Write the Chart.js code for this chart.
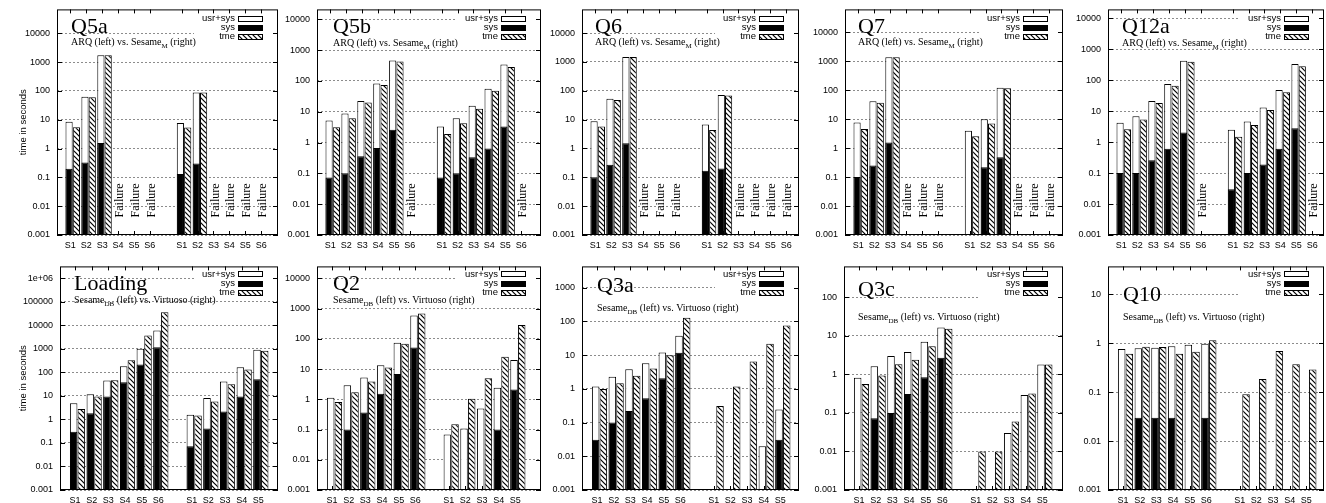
<!DOCTYPE html>
<html>
<head>
<meta charset="utf-8">
<title>Query times</title>
<script src="https://cdn.jsdelivr.net/npm/chart.js@4/dist/chart.umd.min.js"></script>
<style>
  html, body { margin: 0; padding: 0; background: #fff; overflow: hidden; }
  #page { position: relative; width: 1326px; height: 503px; overflow: hidden; }
  #page canvas { position: absolute; }
</style>
</head>
<body>
<div id="page"></div>
<script>
var SERVERS = ["S1", "S2", "S3", "S4", "S5", "S6"];
var TICK_VALUES = [0.001, 0.01, 0.1, 1, 10, 100, 1000, 10000, 100000, 1000000];
var TICK_LABELS = ["0.001", "0.01", "0.1", "1", "10", "100", "1000", "10000", "100000", "1e+06"];
var Y_TITLE = "time in seconds";
var LEGEND_LABELS = ["usr+sys", "sys", "tme"];
var FAILURE_TEXT = "Failure";
var SUBTITLE_ARQ = ["ARQ (left) vs. Sesame", "M", " (right)"];
var SUBTITLE_VIRTUOSO = ["Sesame", "DB", " (left) vs. Virtuoso (right)"];

// left system S1..S6, then right system S1..S6 (seconds)
var Q5A_USRSYS = [8.5, 62, 1730, null, null, null, 7.7, 88, null, null, null, null];
var Q5A_SYS = [0.2, 0.33, 1.56, null, null, null, 0.13, 0.3, null, null, null, null];
var Q5A_TME = [5.5, 60, 1730, null, null, null, 5.4, 88, null, null, null, null];
var Q5A_FAILED = [3, 4, 5, 8, 9, 10, 11];

var Q5B_USRSYS = [5.2, 8.8, 22.4, 82, 457, null, 3.3, 6.1, 15.5, 55, 340, null];
var Q5B_SYS = [0.073, 0.1, 0.36, 0.66, 2.6, null, 0.073, 0.1, 0.33, 0.64, 3.3, null];
var Q5B_TME = [3.1, 6.1, 19.8, 73, 424, null, 1.9, 4.2, 12.5, 48, 280, null];
var Q5B_FAILED = [5, 11];

var Q6_USRSYS = [8.8, 53, 1480, null, null, null, 6.8, 71, null, null, null, null];
var Q6_SYS = [0.1, 0.27, 1.5, null, null, null, 0.17, 0.2, null, null, null, null];
var Q6_TME = [5.8, 48, 1480, null, null, null, 4.4, 68, null, null, null, null];
var Q6_FAILED = [3, 4, 5, 8, 9, 10, 11];

var Q7_USRSYS = [7.7, 42, 1370, null, null, null, 4.0, 10, 123, null, null, null];
var Q7_SYS = [0.1, 0.25, 1.56, null, null, null, null, 0.22, 0.48, null, null, null];
var Q7_TME = [4.6, 37, 1370, null, null, null, 2.6, 7.1, 118, null, null, null];
var Q7_FAILED = [3, 4, 5, 9, 10, 11];

var Q12A_USRSYS = [4.2, 6.9, 21.4, 75, 425, null, 2.5, 4.6, 13.1, 48, 330, null];
var Q12A_SYS = [0.1, 0.1, 0.26, 0.61, 2.05, null, 0.03, 0.1, 0.19, 0.61, 2.8, null];
var Q12A_TME = [2.6, 5.4, 18.4, 66, 390, null, 1.5, 3.6, 10.8, 41, 280, null];
var Q12A_FAILED = [5, 11];

var LOADING_USRSYS = [4.9, 11.7, 45, 184, 1000, 6000, 1.6, 8.2, 41, 167, 910, null];
var LOADING_SYS = [0.3, 1.84, 9.4, 38, 215, 1170, 0.073, 0.41, 2.15, 9.4, 51, null];
var LOADING_TME = [2.8, 9.4, 46, 327, 3700, 36000, 1.47, 5.8, 31.6, 133, 830, null];

var Q2_USRSYS = [1.13, 2.9, 5.3, 13.5, 74, 593, 0.069, 0.108, 0.5, 2.4, 20, null];
var Q2_SYS = [null, 0.1, 0.37, 1.53, 6.9, 52, null, null, null, 0.1, 2.1, null];
var Q2_TME = [0.82, 1.73, 3.9, 11.3, 69, 690, 0.149, 1.05, 5.0, 25.7, 290, null];

var Q3A_USRSYS = [1.17, 2.28, 3.8, 5.8, 12, 38, null, null, null, 0.02, 0.245, null];
var Q3A_SYS = [0.031, 0.1, 0.22, 0.53, 2.05, 11.7, null, null, null, null, 0.031, null];
var Q3A_TME = [1.0, 1.46, 2.44, 4.0, 10, 128, 0.31, 1.17, 6.5, 22, 76, null];

var Q3C_USRSYS = [0.82, 1.63, 2.98, 3.77, 7.0, 16.3, null, null, 0.03, 0.29, 1.8, null];
var Q3C_SYS = [null, 0.073, 0.1, 0.31, 0.84, 2.7, null, null, null, null, null, null];
var Q3C_TME = [0.56, 0.93, 1.83, 2.4, 5.36, 15.2, 0.01, 0.01, 0.06, 0.32, 1.8, null];

var Q10_USRSYS = [0.76, 0.79, 0.81, 0.86, 0.93, 0.97, null, null, null, null, null, null];
var Q10_SYS = [null, 0.03, 0.03, 0.03, null, 0.03, null, null, null, null, null, null];
var Q10_TME = [0.61, 0.845, 0.83, 0.61, 0.67, 1.15, 0.09, 0.185, 0.69, 0.37, 0.29, null];

var FONT_SANS = "'Liberation Sans', Arial, sans-serif";
var FONT_SERIF = "'Liberation Serif', 'Times New Roman', serif";
var PAD_TOP = 8;
var PAD_BOTTOM = 16;
var PAD_RIGHT = 3;
var BAR_STEP = 0.46;
var GROUP_GAP = 1;

var ROWS = {
  top: { frameTop: 5, frameBottom: 235, slotPx: 15.9, firstSlot: -0.76, legendY: [9, 18.3, 27.3], rightCount: 6, subtitle: SUBTITLE_ARQ },
  bottom: { frameTop: 262, frameBottom: 490, slotPx: 16.67, firstSlot: -0.82, legendY: [7.5, 16.8, 26], rightCount: 5, subtitle: SUBTITLE_VIRTUOSO }
};

var PANELS = [
  { title: "Q5a", row: "top", col: 0, left: 57, right: 278, ymax: 67000, titleX: 14, titleY: 24, subY: 36, usrsys: Q5A_USRSYS, sys: Q5A_SYS, tme: Q5A_TME, failed: Q5A_FAILED },
  { title: "Q5b", row: "top", col: 1, left: 317, right: 541, ymax: 20800, titleX: 16, titleY: 23.5, subY: 37, usrsys: Q5B_USRSYS, sys: Q5B_SYS, tme: Q5B_TME, failed: Q5B_FAILED },
  { title: "Q6", row: "top", col: 2, left: 582, right: 799, ymax: 66000, titleX: 13, titleY: 24, subY: 36, usrsys: Q6_USRSYS, sys: Q6_SYS, tme: Q6_TME, failed: Q6_FAILED },
  { title: "Q7", row: "top", col: 3, left: 845, right: 1063, ymax: 62000, titleX: 13, titleY: 23.5, subY: 36, usrsys: Q7_USRSYS, sys: Q7_SYS, tme: Q7_TME, failed: Q7_FAILED },
  { title: "Q12a", row: "top", col: 4, left: 1108, right: 1324, ymax: 19300, titleX: 14, titleY: 24, subY: 36.5, usrsys: Q12A_USRSYS, sys: Q12A_SYS, tme: Q12A_TME, failed: Q12A_FAILED },
  { title: "Loading", row: "bottom", col: 0, left: 60, right: 278, ymax: 3200000, titleX: 14, titleY: 24, subY: 37, usrsys: LOADING_USRSYS, sys: LOADING_SYS, tme: LOADING_TME, failed: [] },
  { title: "Q2", row: "bottom", col: 1, left: 317, right: 541, ymax: 25000, titleX: 16, titleY: 24, subY: 37, usrsys: Q2_USRSYS, sys: Q2_SYS, tme: Q2_TME, failed: [] },
  { title: "Q3a", row: "bottom", col: 2, left: 582, right: 799, ymax: 4300, titleX: 15, titleY: 25.5, subY: 44.5, usrsys: Q3A_USRSYS, sys: Q3A_SYS, tme: Q3A_TME, failed: [] },
  { title: "Q3c", row: "bottom", col: 3, left: 844, right: 1063, ymax: 630, titleX: 14, titleY: 30, subY: 53.5, usrsys: Q3C_USRSYS, sys: Q3C_SYS, tme: Q3C_TME, failed: [] },
  { title: "Q10", row: "bottom", col: 4, left: 1108, right: 1324, ymax: 37, titleX: 15, titleY: 35, subY: 53.5, usrsys: Q10_USRSYS, sys: Q10_SYS, tme: Q10_TME, failed: [] }
];

(function () {
  "use strict";

  function slotOf(k) {
    return k < SERVERS.length ? k : k + GROUP_GAP;
  }

  function points(values, shift) {
    var out = [];
    values.forEach(function (v, k) {
      if (v !== null) {
        out.push({ x: slotOf(k) + shift, y: v });
      }
    });
    return out;
  }

  function labelSlots(row) {
    var list = [];
    SERVERS.forEach(function (name, i) {
      list.push({ text: name, slot: slotOf(i) });
    });
    SERVERS.slice(0, row.rightCount).forEach(function (name, i) {
      list.push({ text: name, slot: slotOf(SERVERS.length + i) });
    });
    return list;
  }

  function makeHatch(ctx) {
    var tile = document.createElement("canvas");
    tile.width = 5;
    tile.height = 5;
    var g = tile.getContext("2d");
    g.fillStyle = "#fff";
    g.fillRect(0, 0, 5, 5);
    g.strokeStyle = "#000";
    g.lineWidth = 1.2;
    g.beginPath();
    g.moveTo(-1, -1); g.lineTo(6, 6);
    g.moveTo(-1, 4); g.lineTo(1, 6);
    g.moveTo(4, -1); g.lineTo(6, 1);
    g.stroke();
    return ctx.createPattern(tile, "repeat");
  }

  function drawSubtitle(ctx, parts, x, y) {
    ctx.textAlign = "left";
    ctx.textBaseline = "alphabetic";
    ctx.font = "10px " + FONT_SERIF;
    ctx.fillText(parts[0], x, y);
    x += ctx.measureText(parts[0]).width;
    ctx.font = "7px " + FONT_SERIF;
    ctx.fillText(parts[1], x, y + 3);
    x += ctx.measureText(parts[1]).width;
    ctx.font = "10px " + FONT_SERIF;
    ctx.fillText(parts[2], x, y);
  }

  function decorations(panel, row, hatch, canvasLeft) {
    return {
      id: "gnuplotDecor",
      afterDraw: function (chart) {
        var ctx = chart.ctx;
        var area = chart.chartArea;
        var xs = chart.scales.x;
        var ys = chart.scales.y;
        ctx.save();

        ctx.fillStyle = "#fff";
        ctx.fillRect(area.right - 84, area.top + 1, 83, 32);

        ctx.font = "9.5px " + FONT_SANS;
        ctx.textAlign = "right";
        ctx.textBaseline = "middle";
        ctx.lineWidth = 1;
        ctx.strokeStyle = "#000";
        LEGEND_LABELS.forEach(function (label, i) {
          var y = area.top + row.legendY[i];
          ctx.fillStyle = "#000";
          ctx.fillText(label, area.right - 43, y);
          var bx = area.right - 40;
          var by = Math.round(y - 2.5) + 0.5;
          ctx.fillStyle = i === 0 ? "#fff" : (i === 1 ? "#000" : hatch);
          ctx.fillRect(bx, by, 25, 5);
          ctx.strokeRect(bx + 0.5, by, 24, 5);
        });

        ctx.fillStyle = "#000";
        ctx.font = "22px " + FONT_SERIF;
        ctx.textAlign = "left";
        ctx.textBaseline = "alphabetic";
        ctx.fillText(panel.title, area.left + panel.titleX, area.top + panel.titleY);
        drawSubtitle(ctx, row.subtitle, area.left + panel.titleX, area.top + panel.subY);

        ctx.font = "12px " + FONT_SERIF;
        ctx.textAlign = "center";
        ctx.textBaseline = "middle";
        panel.failed.forEach(function (k) {
          ctx.save();
          ctx.translate(xs.getPixelForValue(slotOf(k) + 0.2), area.top + 191);
          ctx.rotate(-Math.PI / 2);
          ctx.fillText(FAILURE_TEXT, 0, 0);
          ctx.restore();
        });

        ctx.strokeStyle = "#000";
        ctx.lineWidth = 1;
        ctx.beginPath();
        ys.ticks.forEach(function (t) {
          var y = Math.round(ys.getPixelForValue(t.value)) + 0.5;
          ctx.moveTo(area.left, y); ctx.lineTo(area.left + 5, y);
          ctx.moveTo(area.right - 5, y); ctx.lineTo(area.right, y);
        });
        var labels = labelSlots(row);
        labels.forEach(function (l) {
          var x = Math.round(xs.getPixelForValue(l.slot + 0.08)) + 0.5;
          ctx.moveTo(x, area.bottom); ctx.lineTo(x, area.bottom - 4);
          ctx.moveTo(x, area.top); ctx.lineTo(x, area.top + 4);
        });
        ctx.stroke();
        ctx.strokeRect(area.left + 0.5, area.top + 0.5, area.right - area.left - 1, area.bottom - area.top - 1);

        ctx.font = "9px " + FONT_SANS;
        ctx.textAlign = "center";
        ctx.textBaseline = "alphabetic";
        labels.forEach(function (l) {
          ctx.fillText(l.text, xs.getPixelForValue(l.slot + 0.08), area.bottom + 13);
        });

        if (panel.col === 0) {
          ctx.save();
          ctx.font = "9.5px " + FONT_SANS;
          ctx.translate(23 - canvasLeft, (area.top + area.bottom) / 2);
          ctx.rotate(-Math.PI / 2);
          ctx.textBaseline = "middle";
          ctx.fillText(Y_TITLE, 0, 0);
          ctx.restore();
        }
        ctx.restore();
      }
    };
  }

  function buildPanel(page, panel) {
    var row = ROWS[panel.row];
    var canvasLeft = panel.col === 0 ? 0 : panel.left - 52;
    var axisWidth = panel.left - canvasLeft;
    var frameW = panel.right - panel.left;
    var frameH = row.frameBottom - row.frameTop;
    var canvas = document.createElement("canvas");
    canvas.width = axisWidth + frameW + PAD_RIGHT;
    canvas.height = PAD_TOP + frameH + PAD_BOTTOM;
    canvas.style.left = canvasLeft + "px";
    canvas.style.top = (row.frameTop - PAD_TOP) + "px";
    page.appendChild(canvas);
    var ctx = canvas.getContext("2d");
    var hatch = makeHatch(ctx);
    var xmin = row.firstSlot;
    var xmax = row.firstSlot + frameW / row.slotPx;
    var tickValues = TICK_VALUES.filter(function (v) { return v <= panel.ymax; });
    var labels = labelSlots(row);

    var common = { borderColor: "#000", borderWidth: 1, grouped: false, barPercentage: 0.98, categoryPercentage: 1 };
    function dataset(extra) {
      return Object.assign({}, common, extra);
    }

    new Chart(ctx, {
      type: "bar",
      data: {
        datasets: [
          dataset({ label: "sys", data: points(panel.sys, 0), backgroundColor: "#000", order: 0 }),
          dataset({ label: "usr+sys", data: points(panel.usrsys, 0), backgroundColor: "#fff", order: 1 }),
          dataset({ label: "tme", data: points(panel.tme, BAR_STEP), backgroundColor: hatch, order: 2 })
        ]
      },
      options: {
        responsive: false,
        animation: false,
        devicePixelRatio: 1,
        events: [],
        layout: { padding: { left: 0, right: PAD_RIGHT, top: PAD_TOP, bottom: PAD_BOTTOM } },
        plugins: { legend: { display: false }, tooltip: { enabled: false } },
        scales: {
          x: {
            type: "linear",
            display: false,
            offset: false,
            bounds: "data",
            grace: 0,
            min: xmin,
            max: xmax,
            grid: { offset: false },
            afterBuildTicks: function (scale) {
              scale.ticks = labels.map(function (l) { return { value: l.slot + 0.08 }; });
            }
          },
          y: {
            type: "logarithmic",
            bounds: "data",
            min: 0.001,
            max: panel.ymax,
            afterBuildTicks: function (scale) {
              scale.ticks = tickValues.map(function (v) { return { value: v }; });
            },
            afterFit: function (scale) {
              scale.width = axisWidth;
            },
            ticks: {
              autoSkip: false,
              padding: 7,
              color: "#000",
              font: { family: FONT_SANS, size: 9 },
              callback: function (value) {
                return TICK_LABELS[TICK_VALUES.indexOf(value)];
              }
            },
            grid: { color: "#8c8c8c", lineWidth: 1, drawTicks: false },
            border: { display: false, dash: [2, 2] }
          }
        }
      },
      plugins: [decorations(panel, row, hatch, canvasLeft)]
    });
  }

  var page = document.getElementById("page");
  PANELS.forEach(function (panel) {
    buildPanel(page, panel);
  });
})();
</script>
</body>
</html>
